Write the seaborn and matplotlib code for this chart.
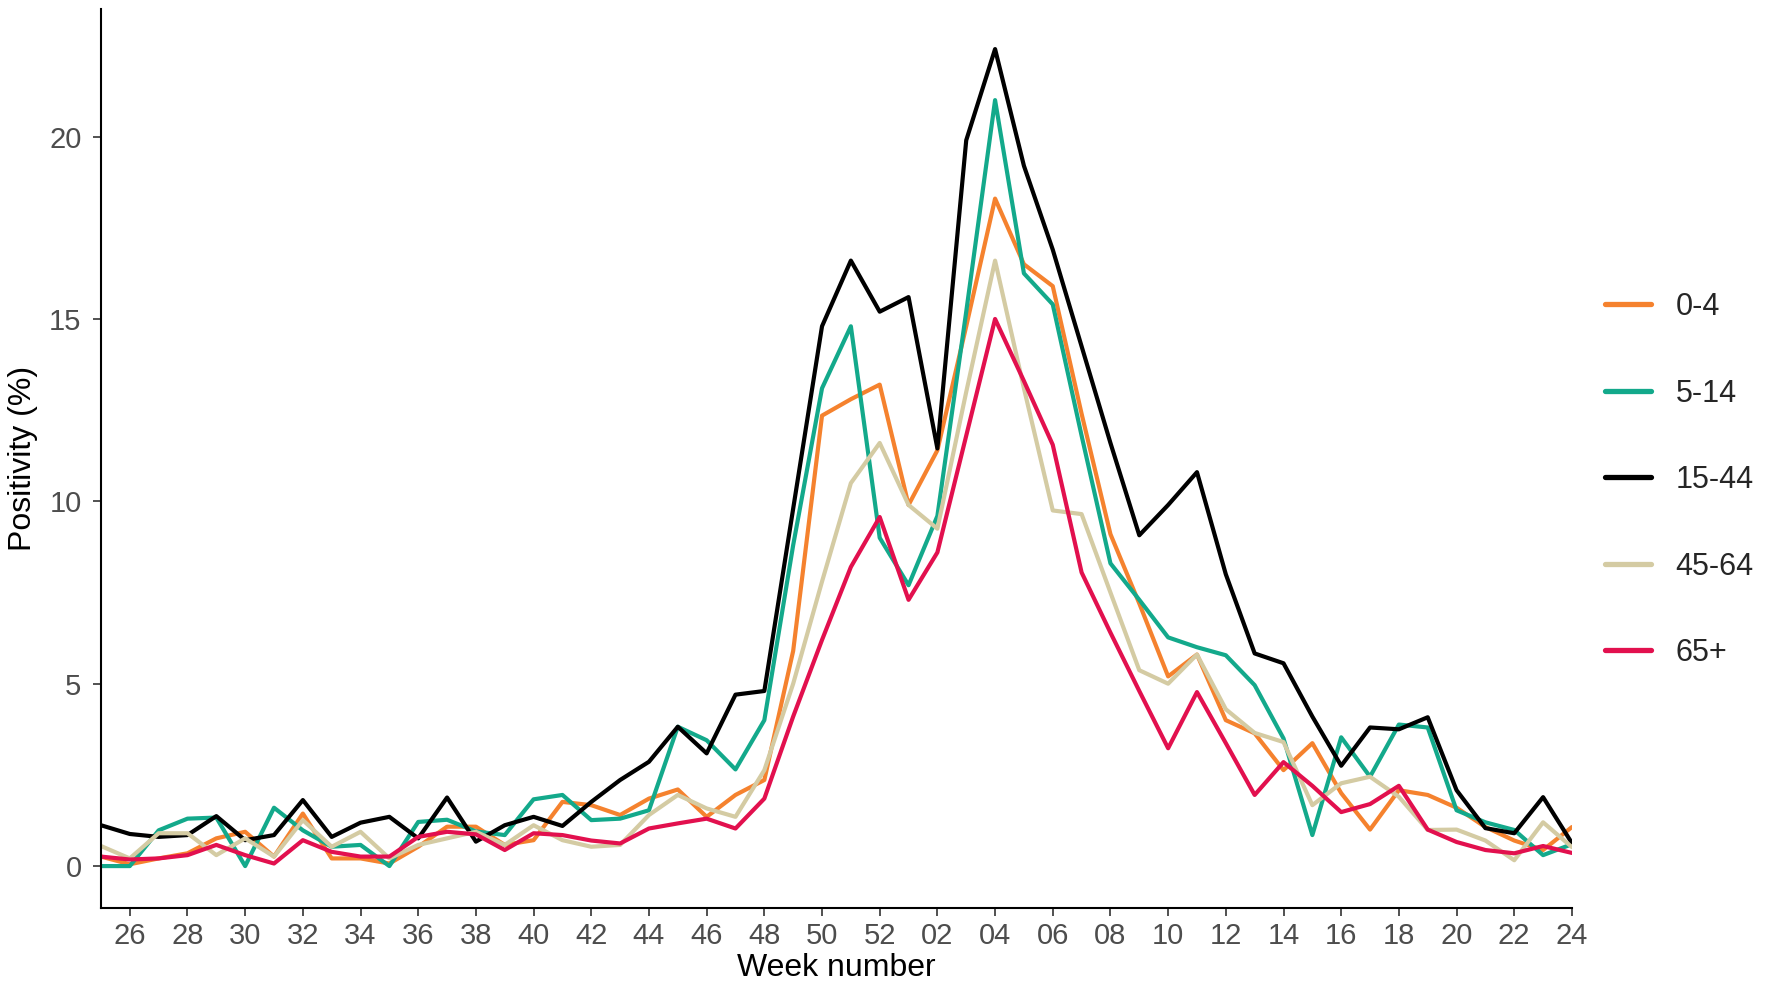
import pandas as pd
import matplotlib
matplotlib.use("Agg")
import matplotlib.pyplot as plt
import seaborn as sns

# Week numbers: 25..52 then 01..24 of the next year
weeks = list(range(25, 53)) + list(range(1, 25))
tick_weeks = [w for w in weeks if w % 2 == 0]

groups = ["0-4", "5-14", "15-44", "45-64", "65+"]

pos_0_4 = [0.26, 0.05, 0.21, 0.35, 0.76, 0.94, 0.26, 1.44, 0.21, 0.21, 0.07, 0.53, 1.08, 1.08,
           0.58, 0.71, 1.76, 1.67, 1.40, 1.85, 2.10, 1.35, 1.95, 2.36, 5.90, 12.35, 12.8, 13.2,
           9.9, 11.4, 14.8, 18.3, 16.5, 15.9, 12.4, 9.1, 7.2, 5.2, 5.8, 4.0, 3.64, 2.63,
           3.37, 2.0, 1.0, 2.08, 1.95, 1.6, 1.07, 0.7, 0.44, 1.07]
pos_5_14 = [0.0, 0.0, 0.98, 1.30, 1.33, 0.0, 1.60, 0.98, 0.53, 0.58, 0.0, 1.21, 1.27, 0.95,
            0.85, 1.83, 1.95, 1.26, 1.30, 1.53, 3.82, 3.45, 2.65, 4.0, 8.8, 13.1, 14.8, 9.0,
            7.7, 9.6, 15.2, 21.0, 16.25, 15.4, 11.8, 8.3, 7.3, 6.27, 6.0, 5.78, 4.96, 3.5,
            0.85, 3.53, 2.45, 3.88, 3.8, 1.53, 1.2, 0.99, 0.3, 0.6]
pos_15_44 = [1.12, 0.88, 0.80, 0.85, 1.37, 0.71, 0.85, 1.81, 0.80, 1.19, 1.35, 0.76, 1.88, 0.67,
             1.12, 1.35, 1.10, 1.76, 2.36, 2.86, 3.82, 3.09, 4.70, 4.80, 9.8, 14.8, 16.6, 15.2,
             15.6, 11.45, 19.9, 22.4, 19.2, 16.9, 14.25, 11.6, 9.07, 9.9, 10.8, 8.0, 5.83, 5.56,
             4.1, 2.75, 3.8, 3.75, 4.08, 2.08, 1.04, 0.9, 1.89, 0.63]
pos_45_64 = [0.55, 0.21, 0.90, 0.90, 0.30, 0.76, 0.26, 1.26, 0.53, 0.94, 0.21, 0.58, 0.76, 0.94,
             0.58, 1.12, 0.71, 0.53, 0.58, 1.40, 1.95, 1.58, 1.35, 2.63, 5.0, 7.8, 10.5, 11.6,
             9.9, 9.25, 13.0, 16.6, 13.1, 9.75, 9.65, 7.5, 5.37, 5.0, 5.8, 4.3, 3.65, 3.4,
             1.67, 2.27, 2.45, 1.9, 0.99, 1.0, 0.7, 0.16, 1.2, 0.52]
pos_65 = [0.26, 0.18, 0.21, 0.30, 0.58, 0.30, 0.07, 0.71, 0.39, 0.26, 0.26, 0.80, 0.94, 0.87,
          0.44, 0.90, 0.85, 0.70, 0.62, 1.03, 1.17, 1.30, 1.03, 1.85, 4.1, 6.2, 8.2, 9.57,
          7.3, 8.6, 11.8, 15.0, 13.3, 11.55, 8.05, 6.4, 4.8, 3.23, 4.77, 3.37, 1.95, 2.85,
          2.2, 1.48, 1.7, 2.2, 1.0, 0.66, 0.44, 0.35, 0.55, 0.36]

colors = {"0-4": "#F5822E", "5-14": "#13A98B", "15-44": "#000000",
          "45-64": "#D4CBA3", "65+": "#E2104E"}

# long-form table, x as running position so 52 -> 01 stays continuous
rows = []
for g, vals in zip(groups, [pos_0_4, pos_5_14, pos_15_44, pos_45_64, pos_65]):
    for i, v in enumerate(vals):
        rows.append({"pos": i, "week": weeks[i], "group": g, "value": v})
df = pd.DataFrame(rows)

sns.set_theme(style="ticks")
plt.rcParams["font.family"] = ["Liberation Sans", "DejaVu Sans"]

fig = plt.figure(figsize=(17.68, 9.94), dpi=100)
ax = fig.add_axes([0.0571, 0.0865, 0.8320, 0.9045])

sns.lineplot(data=df, x="pos", y="value", hue="group", hue_order=groups,
             palette=colors, linewidth=3.0, ax=ax, legend=True)

ax.set_xlim(0, len(weeks) - 1)
ax.set_ylim(-1.15, 23.5)
ax.set_xticks([weeks.index(w) for w in tick_weeks])
ax.set_xticklabels([f"{w:02d}" for w in tick_weeks])
ax.set_yticks([0, 5, 10, 15, 20])

ax.set_xlabel("Week number", fontsize=23, color="black", labelpad=2)
ax.set_ylabel("Positivity (%)", fontsize=23, color="black", labelpad=8)
ax.tick_params(axis="both", labelsize=21, labelcolor="#4D4D4D", length=6,
               width=1.2, color="#333333")
ax.tick_params(axis="x", pad=4)
ax.tick_params(axis="y", pad=8)

sns.despine(ax=ax)
for side in ["left", "bottom"]:
    ax.spines[side].set_color("black")
    ax.spines[side].set_linewidth(1.5)

handles, labels = ax.get_legend_handles_labels()
ax.get_legend().remove()
for h in handles:
    h.set_linewidth(3.8)
fig.legend(handles, labels, loc="center left", bbox_to_anchor=(0.908, 0.517),
           frameon=False, fontsize=22, labelspacing=1.85, handlelength=1.5,
           handletextpad=0.8, borderpad=0, borderaxespad=0)

fig.savefig("out.png", dpi=100)
